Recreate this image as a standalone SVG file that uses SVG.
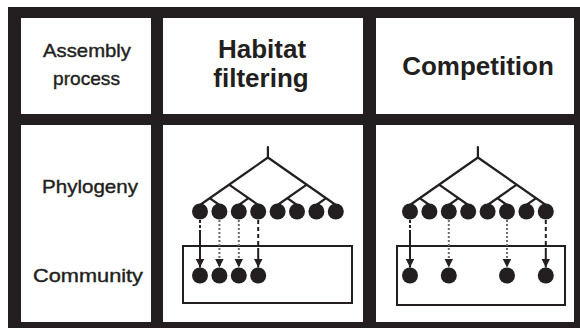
<svg xmlns="http://www.w3.org/2000/svg" width="580" height="328" viewBox="0 0 580 328">
<style>
.cell{fill:#ffffff;}
.lbl{font-family:"Liberation Sans",Arial,sans-serif;font-size:19px;fill:#231f20;stroke:#231f20;stroke-width:0.4;text-anchor:middle;}
.hd{font-family:"Liberation Sans",Arial,sans-serif;font-size:26px;font-weight:bold;fill:#231f20;text-anchor:middle;}
.br{fill:none;stroke:#231f20;stroke-width:2.2;stroke-linecap:round;}
.leaf{fill:#231f20;}
.box{fill:none;stroke:#231f20;stroke-width:2;}
.solidish{stroke:#231f20;stroke-width:2;fill:none;stroke-dasharray:3 2 3 2 60 2;}
.dot{stroke:#6d6a6b;stroke-width:2;fill:none;stroke-dasharray:2 2;}
.dash{stroke:#231f20;stroke-width:2;fill:none;stroke-dasharray:4 3 4 3 4 3 4 3 40 1;}
</style>
<defs>
<marker id="ah" viewBox="0 0 9 9" refX="9" refY="4.5" markerWidth="9" markerHeight="9" markerUnits="userSpaceOnUse" orient="auto">
<path d="M0,0 L9,4.5 L0,9 z" fill="#231f20"/>
</marker>
<g id="tree">
<path class="br" d="M267.9,147 L267.9,157.5 M267.9,157.5 L200,205 M267.9,157.5 L335.8,205 M229.1,184.6 L258.2,205 M306.7,184.6 L277.6,205 M209.7,198.2 L219.4,205 M248.5,198.2 L238.8,205 M287.3,198.2 L297,205 M326.1,198.2 L316.4,205"/>
<circle class="leaf" cx="200" cy="211.5" r="8"/>
<circle class="leaf" cx="219.4" cy="211.5" r="8"/>
<circle class="leaf" cx="238.8" cy="211.5" r="8"/>
<circle class="leaf" cx="258.2" cy="211.5" r="8"/>
<circle class="leaf" cx="277.6" cy="211.5" r="8"/>
<circle class="leaf" cx="297" cy="211.5" r="8"/>
<circle class="leaf" cx="316.4" cy="211.5" r="8"/>
<circle class="leaf" cx="335.8" cy="211.5" r="8"/>
</g>
</defs>

<rect id="frame" x="8" y="7" width="572" height="321" fill="#231f20"/>

<g id="cell-assembly">
<rect class="cell" x="21" y="18" width="130" height="96"/>
<text class="lbl" x="87" y="57" textLength="88" lengthAdjust="spacingAndGlyphs">Assembly</text>
<text class="lbl" x="86.5" y="85" textLength="67" lengthAdjust="spacingAndGlyphs">process</text>
</g>
<g id="cell-habitat">
<rect class="cell" x="163" y="18" width="200" height="96"/>
<text class="hd" x="262" y="58">Habitat</text>
<text class="hd" x="261" y="87">filtering</text>
</g>
<g id="cell-competition">
<rect class="cell" x="376" y="18" width="198" height="96"/>
<text class="hd" x="478" y="75">Competition</text>
</g>
<g id="cell-labels">
<rect class="cell" x="21" y="125" width="130" height="197"/>
<text class="lbl" x="90" y="193" textLength="96" lengthAdjust="spacingAndGlyphs">Phylogeny</text>
<text class="lbl" x="88" y="282" textLength="110" lengthAdjust="spacingAndGlyphs">Community</text>
</g>
<g id="cell-habitat-diagram">
<rect class="cell" x="163" y="125" width="200" height="197"/>
</g>
<g id="cell-competition-diagram">
<rect class="cell" x="376" y="125" width="198" height="197"/>
</g>

<g id="phylogeny-habitat">
<use href="#tree"/>
</g>
<g id="phylogeny-competition">
<use href="#tree" transform="translate(210,0)"/>
</g>

<g id="community-habitat">
<rect class="box" x="183" y="246" width="169" height="57"/>
<circle class="leaf" cx="200" cy="275.5" r="8"/>
<circle class="leaf" cx="219.4" cy="275.5" r="8"/>
<circle class="leaf" cx="238.8" cy="275.5" r="8"/>
<circle class="leaf" cx="258.2" cy="275.5" r="8"/>
</g>
<g id="community-competition">
<rect class="box" x="397" y="246" width="168" height="59"/>
<circle class="leaf" cx="410" cy="275.5" r="8"/>
<circle class="leaf" cx="448.8" cy="275.5" r="8"/>
<circle class="leaf" cx="507" cy="275.5" r="8"/>
<circle class="leaf" cx="545.8" cy="275.5" r="8"/>
</g>

<g id="connectors">
<line class="solidish" x1="200" y1="220" x2="200" y2="267.5" marker-end="url(#ah)"/>
<line class="dot" x1="219.4" y1="220" x2="219.4" y2="267.5" marker-end="url(#ah)"/>
<line class="dot" x1="238.8" y1="220" x2="238.8" y2="267.5" marker-end="url(#ah)"/>
<line class="dash" x1="258.2" y1="220" x2="258.2" y2="267.5" marker-end="url(#ah)"/>
<line class="solidish" x1="410" y1="220" x2="410" y2="267.5" marker-end="url(#ah)"/>
<line class="dot" x1="448.8" y1="220" x2="448.8" y2="267.5" marker-end="url(#ah)"/>
<line class="dot" x1="507" y1="220" x2="507" y2="267.5" marker-end="url(#ah)"/>
<line class="dash" x1="545.8" y1="220" x2="545.8" y2="267.5" marker-end="url(#ah)"/>
</g>
</svg>
